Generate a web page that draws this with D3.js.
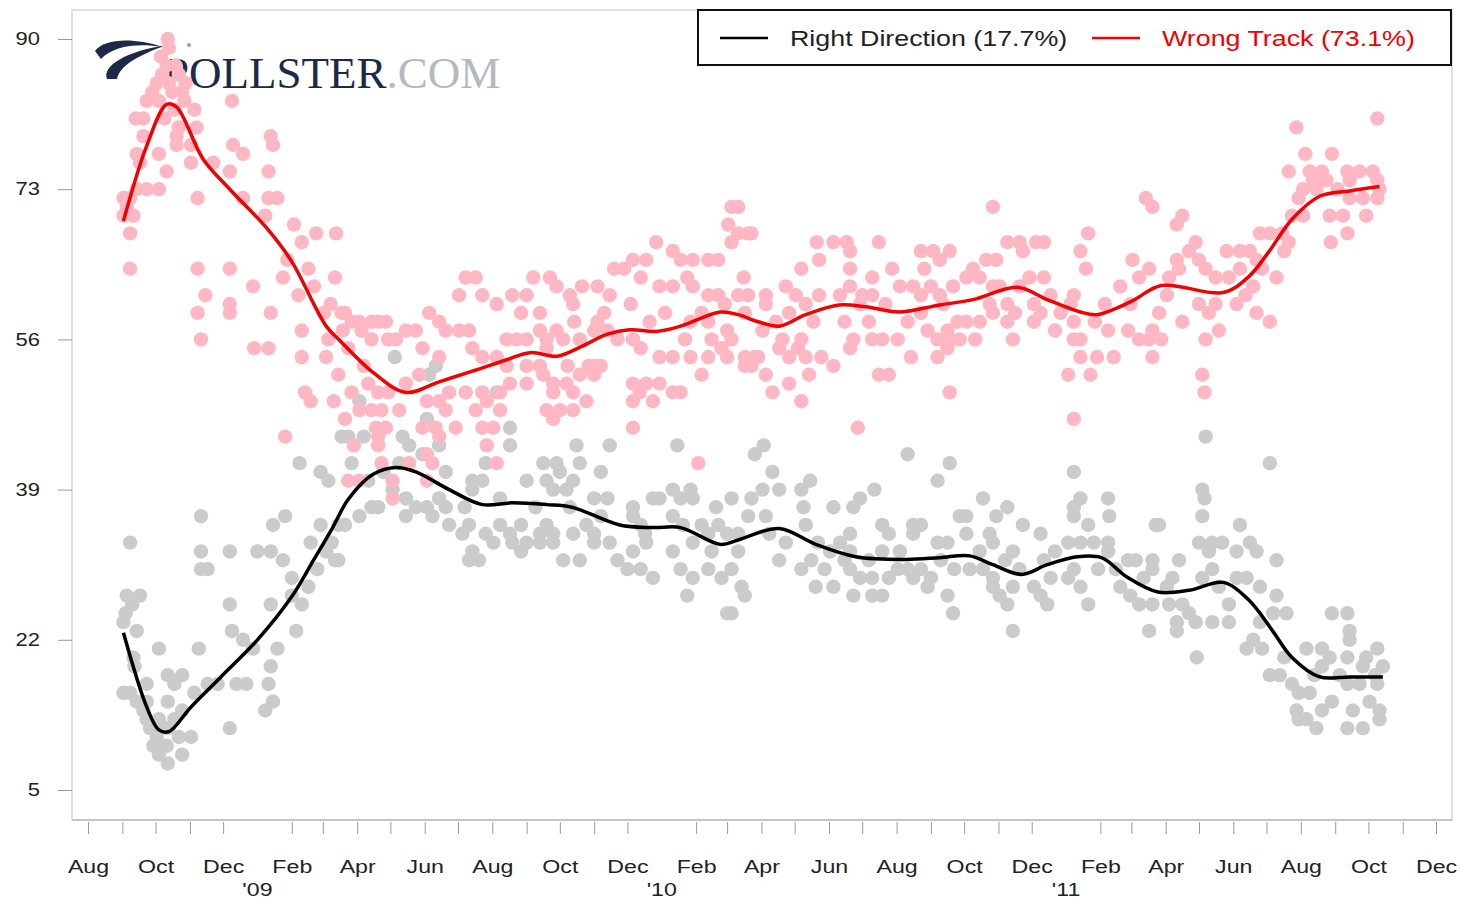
<!DOCTYPE html>
<html>
<head>
<meta charset="utf-8">
<script src="https://cdn.jsdelivr.net/npm/d3@7"></script>
<style>
  body { margin: 0; background: #fff; }
</style>
</head>
<body>
<div class="chart"></div>
<script>
// ---- data ----
var yTicks = [5, 22, 39, 56, 73, 90];
var axisStart = "2008-08-01", axisEnd = "2011-12-01";
var monthLabels = ["Aug", "Oct", "Dec", "Feb", "Apr", "Jun"];
var yearLabels = [["2009-01-01", "'09"], ["2010-01-01", "'10"], ["2011-01-01", "'11"]];
var legendLabels = ["Right Direction (17.7%)", "Wrong Track (73.1%)"];

var wrongPolls = [
["2008-09-02",72],["2008-09-08",72],["2008-09-02",70],["2008-09-11",70],["2008-09-08",68],["2008-09-08",64],["2008-09-14",73],["2008-09-23",73],
["2008-09-14",77],["2008-09-17",76],["2008-09-20",79],["2008-09-13",81],["2008-09-20",81],["2008-09-23",83],["2008-09-28",84],["2008-09-05",71],
["2008-10-02",85],["2008-10-07",86],["2008-10-11",87],["2008-10-12",90],["2008-10-13",89],["2008-10-04",83],["2008-10-22",86],["2008-10-28",85],
["2008-10-20",78],["2008-10-22",80],["2008-10-11",75],["2008-10-04",77],["2008-10-04",73],["2008-10-20",79],["2008-10-16",84],["2008-10-18",82],
["2008-10-09",81],["2008-10-27",83],["2008-10-13",85],["2008-10-06",88],["2008-10-19",87],["2008-10-25",84],
["2008-11-05",82],["2008-11-02",78],["2008-11-02",76],["2008-11-08",72],["2008-11-08",64],["2008-11-08",59],["2008-11-11",56],["2008-11-15",61],
["2008-11-22",76],["2008-11-07",80],
["2008-12-09",83],["2008-12-10",78],["2008-12-19",77],["2008-12-07",75],["2008-12-19",72],["2008-12-07",64],["2008-12-07",60],["2008-12-07",59],
["2008-12-28",62],["2008-12-29",55],
["2009-01-13",79],["2009-01-15",78],["2009-01-11",75],["2009-01-11",72],["2009-01-19",72],["2009-01-08",70],["2009-01-13",59],["2009-01-11",55],
["2009-01-26",45],["2009-01-28",65],["2009-01-24",63],
["2009-02-03",69],["2009-02-10",67],["2009-02-23",68],["2009-02-16",64],["2009-02-21",62],["2009-02-07",61],["2009-02-10",54],["2009-02-13",50],
["2009-02-18",49],["2009-02-10",57],["2009-03-02",59],
["2009-03-13",68],["2009-03-12",63],["2009-03-08",60],["2009-03-18",59],["2009-03-21",59],["2009-03-27",58],["2009-03-19",57],["2009-03-06",56],
["2009-03-24",55],["2009-03-15",52],["2009-03-21",47],["2009-03-27",50],["2009-03-24",40],["2009-03-11",49],["2009-03-29",44],["2009-03-04",54],
["2009-04-03",58],["2009-04-14",58],["2009-04-20",58],["2009-04-27",58],["2009-04-05",57],["2009-04-14",56],["2009-04-29",56],["2009-04-03",48],
["2009-04-14",48],["2009-04-23",48],["2009-04-18",46],["2009-04-27",46],["2009-04-20",45],["2009-04-20",44],["2009-04-23",42],["2009-04-03",40],
["2009-04-20",50],["2009-04-29",50],["2009-04-07",53],["2009-04-11",51],
["2009-05-06",56],["2009-05-15",57],["2009-05-24",57],["2009-05-09",48],["2009-05-03",40],["2009-05-03",38],["2009-05-15",51],["2009-05-30",55],
["2009-05-30",46],["2009-05-18",42],["2009-05-27",52],
["2009-06-05",59],["2009-06-14",58],["2009-06-20",57],["2009-06-14",54],["2009-06-03",49],["2009-06-14",49],["2009-06-20",48],["2009-06-11",46],
["2009-06-29",46],["2009-06-14",45],["2009-06-08",42],["2009-06-03",43],["2009-06-03",40],["2009-06-23",50],
["2009-07-02",57],["2009-07-11",57],["2009-07-14",55],["2009-07-23",54],["2009-07-08",63],["2009-07-17",63],["2009-07-02",61],["2009-07-23",61],
["2009-07-08",50],["2009-07-23",50],["2009-07-17",48],["2009-07-27",49],["2009-07-23",46],["2009-07-27",44],
["2009-08-05",54],["2009-08-05",60],["2009-08-19",61],["2009-08-08",50],["2009-08-08",48],["2009-08-02",46],["2009-08-17",51],["2009-08-14",56],
["2009-08-23",56],["2009-08-14",53],["2009-08-05",42],["2009-08-27",59],
["2009-09-01",61],["2009-09-07",63],["2009-09-22",63],["2009-09-28",62],["2009-09-13",59],["2009-09-13",57],["2009-09-01",56],["2009-09-19",56],
["2009-09-19",55],["2009-09-01",53],["2009-09-13",53],["2009-09-01",51],["2009-09-16",52],["2009-09-25",51],["2009-09-19",48],["2009-09-25",47],
["2009-09-25",50],["2009-09-28",57],
["2009-10-10",61],["2009-10-21",62],["2009-10-13",60],["2009-10-04",56],["2009-10-19",56],["2009-10-07",51],["2009-10-19",52],["2009-10-13",48],
["2009-10-01",48],["2009-10-13",50],["2009-10-25",49],["2009-10-08",53],["2009-10-27",53],["2009-10-14",58],
["2009-11-04",62],["2009-11-15",61],["2009-11-10",59],["2009-11-04",58],["2009-11-01",57],["2009-11-13",57],["2009-11-22",56],["2009-11-01",53],
["2009-11-01",52],["2009-11-19",64],["2009-11-28",64],["2009-11-07",53],
["2009-12-04",60],["2009-12-13",63],["2009-12-06",65],["2009-12-18",65],["2009-12-27",67],["2009-12-06",56],["2009-12-13",55],["2009-12-30",54],
["2009-12-06",51],["2009-12-18",51],["2009-12-30",51],["2009-12-06",49],["2009-12-06",46],["2009-12-12",50],["2009-12-24",49],["2009-12-30",62],
["2009-12-21",58],
["2010-01-11",66],["2010-01-18",65],["2010-01-29",65],["2010-01-11",62],["2010-01-24",63],["2010-01-27",58],["2010-01-11",54],["2010-01-27",54],
["2010-01-11",50],["2010-01-18",50],["2010-01-29",62],["2010-02-03",42],["2010-01-04",59],["2010-01-22",56],
["2010-02-12",65],["2010-02-21",65],["2010-02-12",61],["2010-02-21",61],["2010-02-27",60],["2010-02-06",59],["2010-02-12",58],["2010-03-01",57],
["2010-02-12",54],["2010-03-01",54],["2010-02-15",56],["2010-02-06",52],["2010-02-24",55],
["2010-03-02",69],["2010-03-05",71],["2010-03-11",68],["2010-03-05",67],["2010-03-20",68],["2010-03-11",61],["2010-03-20",61],["2010-03-05",56],
["2010-03-17",54],["2010-03-26",54],["2010-03-17",53],["2010-03-23",53],["2010-03-29",54],["2010-03-17",59],["2010-03-11",71],["2010-03-23",68],
["2010-03-16",63],
["2010-04-05",61],["2010-04-23",62],["2010-04-05",60],["2010-04-26",59],["2010-04-14",58],["2010-04-02",57],["2010-04-20",56],["2010-04-05",52],
["2010-04-26",54],["2010-04-26",51],["2010-04-11",50],["2010-05-02",61],["2010-04-17",55],
["2010-05-07",64],["2010-05-21",67],["2010-05-23",65],["2010-05-11",60],["2010-05-23",61],["2010-05-07",56],["2010-05-11",54],["2010-05-25",54],
["2010-05-14",52],["2010-05-07",49],["2010-05-04",55],["2010-05-18",58],
["2010-06-05",67],["2010-06-17",67],["2010-06-20",66],["2010-06-20",64],["2010-06-11",61],["2010-06-20",62],["2010-06-05",53],["2010-06-23",56],
["2010-06-20",55],["2010-06-27",46],["2010-06-15",58],["2010-06-29",60],
["2010-07-16",67],["2010-07-10",63],["2010-07-01",61],["2010-07-10",61],["2010-07-22",60],["2010-07-10",56],["2010-07-19",56],["2010-07-16",52],
["2010-07-25",52],["2010-07-28",64],["2010-07-07",58],
["2010-08-02",56],["2010-08-11",58],["2010-08-16",62],["2010-08-23",66],["2010-08-26",64],["2010-08-23",61],["2010-08-23",59],["2010-08-29",57],
["2010-08-04",62],["2010-08-14",54],
["2010-09-03",66],["2010-09-09",65],["2010-09-18",66],["2010-09-01",62],["2010-09-09",61],["2010-09-21",62],["2010-09-07",56],["2010-09-16",57],
["2010-09-25",58],["2010-09-18",56],["2010-09-27",56],["2010-09-07",54],["2010-09-16",55],["2010-09-18",50],["2010-09-12",60],
["2010-10-03",63],["2010-10-15",63],["2010-10-09",64],["2010-10-21",65],["2010-10-27",71],["2010-10-27",62],["2010-10-03",58],["2010-10-15",58],
["2010-10-27",59],["2010-10-30",65],["2010-10-11",56],["2010-10-24",60],
["2010-11-09",67],["2010-11-20",67],["2010-11-23",66],["2010-11-09",60],["2010-11-09",58],["2010-11-14",56],["2010-11-02",62],["2010-11-20",62],
["2010-11-29",63],["2010-11-16",59],
["2010-12-12",67],["2010-12-05",67],["2010-12-12",63],["2010-12-03",60],["2010-12-09",59],["2010-12-03",58],["2010-12-27",59],["2010-12-18",61],
["2010-12-22",57],
["2011-01-08",61],["2011-01-08",58],["2011-01-14",56],["2011-01-08",56],["2011-01-21",68],["2011-01-14",66],["2011-01-19",64],["2011-01-03",52],
["2011-01-23",52],["2011-01-14",54],["2011-01-29",54],["2011-01-08",47],["2011-01-05",60],["2011-01-27",58],
["2011-02-08",57],["2011-02-13",54],["2011-02-19",62],["2011-02-26",57],["2011-02-28",60],["2011-02-05",60],
["2011-03-02",65],["2011-03-08",63],["2011-03-17",64],["2011-03-08",56],["2011-03-20",57],["2011-03-14",72],["2011-03-20",71],["2011-03-20",54],
["2011-03-17",56],["2011-03-28",56],["2011-03-26",59],
["2011-04-02",61],["2011-04-04",63],["2011-04-11",69],["2011-04-16",70],["2011-04-11",65],["2011-04-13",64],["2011-04-16",58],["2011-04-22",66],
["2011-04-28",67],
["2011-05-01",65],["2011-05-01",60],["2011-05-07",64],["2011-05-16",63],["2011-05-10",59],["2011-05-19",57],["2011-05-07",56],["2011-05-04",52],
["2011-05-06",50],["2011-05-16",60],["2011-05-26",66],["2011-05-28",63],
["2011-06-07",66],["2011-06-16",66],["2011-06-22",65],["2011-06-07",64],["2011-06-27",64],["2011-06-19",62],["2011-06-04",60],["2011-06-22",59],
["2011-06-25",68],["2011-06-12",61],
["2011-07-04",68],["2011-07-15",68],["2011-07-21",67],["2011-07-17",66],["2011-07-10",63],["2011-07-04",58],["2011-07-24",70],["2011-07-28",80],
["2011-07-30",72],["2011-07-21",75],
["2011-08-03",70],["2011-08-03",73],["2011-08-05",77],["2011-08-09",75],["2011-08-12",74],["2011-08-15",73],["2011-08-20",75],["2011-08-24",74],
["2011-08-27",70],["2011-08-28",67],["2011-08-29",77],
["2011-09-03",73],["2011-09-08",70],["2011-09-12",75],["2011-09-12",68],["2011-09-14",74],["2011-09-14",72],["2011-09-23",75],["2011-09-26",72],
["2011-09-29",70],
["2011-10-09",81],["2011-10-09",74],["2011-10-09",72],["2011-10-05",75],["2011-10-11",73]
];

var rightPolls = [
["2008-09-08",33],["2008-09-05",27],["2008-09-17",27],["2008-09-10",26],["2008-09-02",24],["2008-09-14",23],["2008-09-11",20],["2008-09-02",16],
["2008-09-08",16],["2008-09-14",15],["2008-09-20",14],["2008-09-23",13],["2008-09-26",12],["2008-09-29",10],["2008-09-23",17],["2008-09-23",15],
["2008-09-04",25],["2008-09-12",19],
["2008-10-02",11],["2008-10-04",9],["2008-10-12",8],["2008-10-11",10],["2008-10-22",11],["2008-10-25",9],["2008-10-12",18],["2008-10-25",18],
["2008-10-18",17],["2008-10-12",15],["2008-10-25",14],["2008-10-04",13],["2008-10-13",12],["2008-10-04",21],["2008-10-09",12],["2008-10-18",13],
["2008-11-02",11],["2008-11-05",16],["2008-11-09",21],["2008-11-11",36],["2008-11-11",32],["2008-11-11",30],["2008-11-17",30],["2008-11-17",17],
["2008-11-26",17],
["2008-12-07",32],["2008-12-07",26],["2008-12-09",23],["2008-12-19",22],["2008-12-28",21],["2008-12-07",12],["2008-12-13",17],["2008-12-22",17],
["2009-01-01",32],["2009-01-13",32],["2009-01-15",35],["2009-01-13",26],["2009-01-19",21],["2009-01-13",19],["2009-01-11",17],["2009-01-15",15],
["2009-01-08",14],["2009-01-24",31],["2009-01-26",36],
["2009-02-01",29],["2009-02-16",28],["2009-02-01",27],["2009-02-10",26],["2009-02-05",23],["2009-02-27",35],["2009-02-24",30],["2009-02-08",42],
["2009-02-27",41],["2009-02-18",33],
["2009-03-09",33],["2009-03-12",31],["2009-03-04",32],["2009-03-21",35],["2009-03-18",45],["2009-03-15",35],["2009-03-15",31],["2009-03-24",45],
["2009-03-27",42],["2009-03-06",40],
["2009-04-03",36],["2009-04-14",37],["2009-04-03",49],["2009-04-07",45],["2009-04-20",37],["2009-04-11",40],["2009-04-25",41],
["2009-05-03",39],["2009-05-05",54],["2009-05-12",45],["2009-05-18",44],["2009-05-15",38],["2009-05-24",37],["2009-05-15",36],["2009-05-30",43],
["2009-05-09",42],
["2009-06-03",47],["2009-06-05",52],["2009-06-03",37],["2009-06-08",36],["2009-06-14",44],["2009-06-14",38],["2009-06-20",41],["2009-06-20",37],
["2009-06-11",53],["2009-06-23",35],
["2009-07-05",34],["2009-07-11",35],["2009-07-14",32],["2009-07-11",31],["2009-07-20",31],["2009-07-26",34],["2009-07-14",40],["2009-07-23",40],
["2009-07-14",39],["2009-07-26",42],["2009-07-07",37],
["2009-08-02",33],["2009-08-05",50],["2009-08-08",35],["2009-08-17",34],["2009-08-17",46],["2009-08-17",44],["2009-08-19",33],["2009-08-27",35],
["2009-08-27",32],["2009-08-08",38],
["2009-09-01",33],["2009-09-01",40],["2009-09-13",34],["2009-09-19",35],["2009-09-25",34],["2009-09-25",33],["2009-09-13",33],["2009-09-16",42],
["2009-09-28",42],["2009-09-19",40],["2009-09-25",39],["2009-09-09",37],
["2009-10-01",41],["2009-10-13",40],["2009-10-07",39],["2009-10-19",42],["2009-10-16",44],["2009-10-13",34],["2009-10-04",31],["2009-10-19",31],
["2009-10-25",35],["2009-11-01",38],["2009-10-10",37],
["2009-11-07",41],["2009-11-15",44],["2009-11-13",38],["2009-11-01",34],["2009-11-01",33],["2009-11-15",33],["2009-11-22",31],["2009-11-07",36],
["2009-12-01",30],["2009-12-13",30],["2009-12-24",29],["2009-12-06",37],["2009-12-06",36],["2009-12-13",35],["2009-12-06",32],["2009-12-18",33],
["2009-12-24",38],["2009-12-30",38],["2009-12-17",34],
["2010-01-11",39],["2010-01-18",38],["2010-01-27",39],["2010-01-29",38],["2010-01-11",36],["2010-01-20",35],["2010-01-29",33],["2010-01-11",32],
["2010-01-18",30],["2010-01-29",29],["2010-01-15",44],["2010-01-24",27],
["2010-02-06",35],["2010-02-12",34],["2010-02-21",35],["2010-02-12",30],["2010-02-24",29],["2010-02-15",32],["2010-02-19",37],
["2010-03-01",34],["2010-03-05",38],["2010-03-05",30],["2010-03-11",32],["2010-03-23",38],["2010-03-26",43],["2010-03-14",28],["2010-03-17",27],
["2010-03-01",25],["2010-03-05",25],["2010-03-11",34],["2010-03-20",36],
["2010-04-03",44],["2010-04-11",41],["2010-04-02",39],["2010-04-17",39],["2010-04-05",36],["2010-04-23",33],["2010-04-17",31],["2010-04-08",34],
["2010-05-07",39],["2010-05-15",40],["2010-05-09",37],["2010-05-11",35],["2010-05-07",30],["2010-05-16",31],["2010-05-28",30],["2010-05-20",28],
["2010-05-22",33],
["2010-06-05",37],["2010-06-23",37],["2010-06-29",38],["2010-06-11",33],["2010-06-20",34],["2010-06-02",32],["2010-06-20",32],["2010-06-20",30],
["2010-06-29",29],["2010-06-23",27],["2010-06-05",28],["2010-06-15",31],
["2010-07-12",39],["2010-07-10",27],["2010-07-19",27],["2010-07-10",29],["2010-07-25",29],["2010-07-19",35],["2010-07-19",32],["2010-07-25",34],
["2010-07-07",31],
["2010-08-11",43],["2010-08-16",35],["2010-08-23",35],["2010-08-04",32],["2010-08-16",34],["2010-08-11",30],["2010-08-23",30],["2010-08-16",29],
["2010-08-29",28],["2010-08-02",30],
["2010-09-07",40],["2010-09-18",42],["2010-09-01",29],["2010-09-07",33],["2010-09-16",33],["2010-09-27",36],["2010-09-16",27],["2010-09-21",25],
["2010-09-10",31],["2010-09-22",30],
["2010-10-03",36],["2010-10-03",34],["2010-10-15",32],["2010-10-18",38],["2010-10-30",36],["2010-10-24",34],["2010-10-27",33],["2010-10-18",30],
["2010-10-27",29],["2010-10-27",28],["2010-10-06",30],
["2010-11-02",27],["2010-11-09",37],["2010-11-09",26],["2010-11-14",32],["2010-11-14",28],["2010-11-14",23],["2010-11-23",35],["2010-11-20",30],
["2010-11-07",31],
["2010-12-03",28],["2010-12-09",34],["2010-12-12",31],["2010-12-09",27],["2010-12-18",29],["2010-12-22",32],["2010-12-15",26],
["2011-01-08",41],["2011-01-14",38],["2011-01-08",37],["2011-01-08",36],["2011-01-21",35],["2011-01-03",33],["2011-01-14",33],["2011-01-26",33],
["2011-01-08",30],["2011-01-03",29],["2011-01-14",28],["2011-01-21",26],["2011-01-30",30],
["2011-02-08",38],["2011-02-09",36],["2011-02-08",33],["2011-02-08",32],["2011-02-26",31],["2011-02-19",28],["2011-02-28",27],["2011-02-15",30],
["2011-03-05",31],["2011-03-08",26],["2011-03-17",23],["2011-03-23",35],["2011-03-20",31],["2011-03-20",30],["2011-03-20",26],["2011-03-26",35],
["2011-03-12",29],
["2011-04-02",28],["2011-04-04",26],["2011-04-13",31],["2011-04-16",26],["2011-04-11",24],["2011-04-11",23],["2011-04-22",25],["2011-04-28",24],
["2011-04-29",20],["2011-04-07",29],
["2011-05-01",33],["2011-05-04",39],["2011-05-06",38],["2011-05-04",36],["2011-05-07",45],["2011-05-13",33],["2011-05-22",33],["2011-05-10",32],
["2011-05-13",30],["2011-05-04",29],["2011-05-13",24],["2011-05-28",24],["2011-05-28",26],["2011-05-19",28],
["2011-06-04",32],["2011-06-07",35],["2011-06-04",29],["2011-06-13",29],["2011-06-16",33],["2011-06-22",32],["2011-06-25",28],["2011-06-25",24],
["2011-06-19",22],["2011-06-13",21],["2011-06-27",21],
["2011-07-04",42],["2011-07-10",31],["2011-07-10",27],["2011-07-07",25],["2011-07-19",25],["2011-07-04",18],["2011-07-13",18],["2011-07-24",17],
["2011-07-28",14],["2011-07-30",16],["2011-07-30",13],["2011-07-17",20],
["2011-08-06",21],["2011-08-09",16],["2011-08-06",13],["2011-08-15",12],["2011-08-20",21],["2011-08-20",19],["2011-08-20",14],["2011-08-29",25],
["2011-08-27",20],["2011-08-29",15],["2011-08-13",18],
["2011-09-12",25],["2011-09-14",23],["2011-09-14",22],["2011-09-12",20],["2011-09-12",17],["2011-09-12",12],["2011-09-17",14],["2011-09-23",17],
["2011-09-26",19],["2011-09-26",12],["2011-09-29",20],["2011-09-05",18],
["2011-10-02",15],["2011-10-09",21],["2011-10-09",17],["2011-10-11",14],["2011-10-11",13],["2011-10-14",19],["2011-10-07",18]
];

var wrongTrend = [
["2008-09-02",69.4],["2008-09-23",77.9],["2008-10-11",82.6],["2008-10-20",82.3],["2008-11-13",76.4],["2008-12-07",73.0],["2009-01-10",68.5],
["2009-02-01",64.8],["2009-03-04",57.5],["2009-03-17",55.8],["2009-04-15",52.3],["2009-05-15",50.0],["2009-06-14",51.2],["2009-07-14",52.4],
["2009-08-14",53.7],["2009-09-04",54.5],["2009-09-29",54.1],["2009-10-19",55.1],["2009-11-13",56.6],["2009-12-03",57.1],["2009-12-27",56.9],
["2010-01-18",57.5],["2010-02-23",59.1],["2010-03-11",58.8],["2010-03-29",58.0],["2010-04-17",57.5],["2010-05-11",58.8],["2010-06-10",59.9],
["2010-07-04",59.7],["2010-08-03",59.1],["2010-09-09",59.9],["2010-10-09",60.5],["2010-11-18",61.9],["2010-12-15",60.5],["2011-01-14",59.1],
["2011-01-29",58.8],["2011-03-01",60.3],["2011-03-28",62.1],["2011-05-23",61.3],["2011-06-15",63.1],["2011-07-03",65.9],["2011-07-24",69.6],
["2011-08-18",72.2],["2011-09-14",72.8],["2011-10-11",73.3]
];

var rightTrend = [
["2008-09-02",22.8],["2008-09-23",14.4],["2008-10-04",11.8],["2008-10-13",11.6],["2008-11-02",14.4],["2008-11-29",17.8],["2009-01-01",22.0],
["2009-02-01",26.9],["2009-02-21",31.1],["2009-03-09",34.5],["2009-03-24",37.9],["2009-04-15",40.7],["2009-05-06",41.5],["2009-05-24",41.0],
["2009-06-23",39.0],["2009-07-23",37.3],["2009-08-19",37.5],["2009-09-19",37.3],["2009-10-12",37.0],["2009-11-24",35.0],["2009-12-24",34.7],
["2010-01-18",34.7],["2010-02-23",32.8],["2010-03-11",33.3],["2010-04-17",34.6],["2010-05-20",32.8],["2010-06-25",31.4],["2010-08-10",31.1],
["2010-09-09",31.3],["2010-10-06",31.5],["2010-10-27",30.5],["2010-11-22",29.4],["2010-12-15",30.5],["2011-01-11",31.4],["2011-02-02",31.3],
["2011-02-25",29.1],["2011-03-25",27.4],["2011-04-22",27.6],["2011-05-23",28.5],["2011-06-15",26.5],["2011-07-06",23.1],["2011-07-24",20.0],
["2011-08-18",17.8],["2011-09-14",17.8],["2011-10-14",17.8]
];

// ---- layout / style ----
var width = 1460, height = 903;
var frameLeft = 72, frameTop = 10, frameRight = 1452, frameBottom = 820;
var stretch = 1.22;            // reference glyphs are wider than Liberation Sans
var sansFont = '"Liberation Sans", Arial, sans-serif';
var serifFont = '"Liberation Serif", "DejaVu Serif", serif';
var pinkColor = "#ffb7c4", greyColor = "#cbcbcb";
var redColor = "#f00000", blackColor = "#000000";
var textColor = "#222";
var dotRadius = 7.2;

var parse = d3.timeParse("%Y-%m-%d");

var svg = d3.select('.chart')
			.append('svg')
			.attr('width', width)
			.attr('height', height)
			.style('font-family', sansFont);

var x = d3.scaleTime()
		.domain([parse(axisStart), parse(axisEnd)])
		.range([88, 1436]);
var y = d3.scaleLinear()
		.domain([5, 90])
		.range([790, 39]);

// frame
svg.append('rect')
	.attr('x', frameLeft)
	.attr('y', frameTop)
	.attr('width', frameRight - frameLeft)
	.attr('height', frameBottom - frameTop)
	.attr('fill', 'none')
	.attr('stroke', '#d6d6d6')
	.attr('stroke-width', 1.5);

// y axis
var yAxis = svg.append('g')
			.attr('transform', 'translate(' + frameLeft + ',0)')
			.call(d3.axisLeft(y).tickValues(yTicks).tickSize(14).tickPadding(18));
yAxis.select('.domain').remove();
yAxis.selectAll('line').attr('stroke', '#9a9a9a');
yAxis.selectAll('text')
	.attr('font-size', 18)
	.attr('fill', textColor)
	.style('font-family', sansFont)
	.attr('transform', 'scale(' + stretch + ',1)')
	.attr('x', -32 / stretch);

// x axis: a tick every month but January
var months = d3.timeMonth.range(parse(axisStart), d3.timeDay.offset(parse(axisEnd), 1))
				.filter(function(d){ return d.getMonth() != 0; });
var fmt = d3.timeFormat('%b');
var xAxis = svg.append('g')
			.attr('transform', 'translate(0,' + frameBottom + ')')
			.call(d3.axisBottom(x).tickValues(months).tickSize(14).tickPadding(26)
				.tickFormat(function(d){
					var m = fmt(d);
					return monthLabels.indexOf(m) >= 0 ? m : '';
				}));
xAxis.select('.domain')
	.attr('d', 'M' + frameLeft + ',0H' + frameRight)
	.attr('stroke', '#bdbdbd')
	.attr('stroke-width', 1.5);
xAxis.selectAll('line').attr('stroke', '#9a9a9a').attr('y1', 2);
xAxis.selectAll('text')
	.attr('font-size', 19)
	.attr('fill', textColor)
	.style('font-family', sansFont)
	.attr('transform', 'scale(' + stretch + ',1)');

svg.selectAll('.yearLabel')
	.data(yearLabels)
	.enter()
	.append('text')
	.attr('class', 'yearLabel')
	.attr('transform', function(d){ return 'translate(' + x(parse(d[0])) + ',896) scale(' + stretch + ',1)'; })
	.attr('text-anchor', 'middle')
	.attr('font-size', 19)
	.attr('fill', textColor)
	.text(function(d){ return d[1]; });

// logo (under the dots)
var logo = svg.append('g');
logo.append('path')
	.attr('d', 'M95,51 C104,39 132,37 163,47 C136,43 114,46 101,59 Z')
	.attr('fill', '#1c2a48');
logo.append('path')
	.attr('d', 'M107,79 C102,66 126,51 167,45 C136,56 120,66 117,79 Z')
	.attr('fill', '#1c2a48');
logo.append('circle')
	.attr('cx', 189).attr('cy', 45).attr('r', 2)
	.attr('fill', '#9aa0a8');
var logoText = logo.append('text')
	.attr('x', 164)
	.attr('y', 88)
	.style('font-family', serifFont)
	.attr('font-size', 45);
logoText.append('tspan').attr('fill', '#1c2a48').text('POLLSTER');
logoText.append('tspan').attr('fill', '#b4b9bf').text('.COM');

// dots
svg.append('g')
	.selectAll('circle')
	.data(rightPolls)
	.enter()
	.append('circle')
	.attr('cx', function(d){ return x(parse(d[0])); })
	.attr('cy', function(d){ return y(d[1]); })
	.attr('r', dotRadius)
	.attr('fill', greyColor);
svg.append('g')
	.selectAll('circle')
	.data(wrongPolls)
	.enter()
	.append('circle')
	.attr('cx', function(d){ return x(parse(d[0])); })
	.attr('cy', function(d){ return y(d[1]); })
	.attr('r', dotRadius)
	.attr('fill', pinkColor);

// trend lines
var line = d3.line()
		.x(function(d){ return x(parse(d[0])); })
		.y(function(d){ return y(d[1]); })
		.curve(d3.curveCatmullRom.alpha(0.5));
svg.append('path')
	.attr('d', line(rightTrend))
	.attr('fill', 'none')
	.attr('stroke', blackColor)
	.attr('stroke-width', 3.5)
	.attr('stroke-linejoin', 'round');
svg.append('path')
	.attr('d', line(wrongTrend))
	.attr('fill', 'none')
	.attr('stroke', redColor)
	.attr('stroke-width', 3.5)
	.attr('stroke-linejoin', 'round');

// legend
var legend = svg.append('g');
legend.append('rect')
	.attr('x', 698).attr('y', 10)
	.attr('width', 753).attr('height', 55)
	.attr('fill', '#fff')
	.attr('stroke', '#111')
	.attr('stroke-width', 2);
var legendItems = [
	{label: legendLabels[0], color: blackColor, text: textColor, x: 720},
	{label: legendLabels[1], color: redColor, text: redColor, x: 1092}
];
legendItems.forEach(function(item){
	legend.append('line')
		.attr('x1', item.x).attr('x2', item.x + 48)
		.attr('y1', 38).attr('y2', 38)
		.attr('stroke', item.color)
		.attr('stroke-width', 2.5);
	legend.append('text')
		.attr('transform', 'translate(' + (item.x + 70) + ',46) scale(' + stretch + ',1)')
		.attr('font-size', 22)
		.attr('fill', item.text)
		.text(item.label);
});
</script>
</body>
</html>
